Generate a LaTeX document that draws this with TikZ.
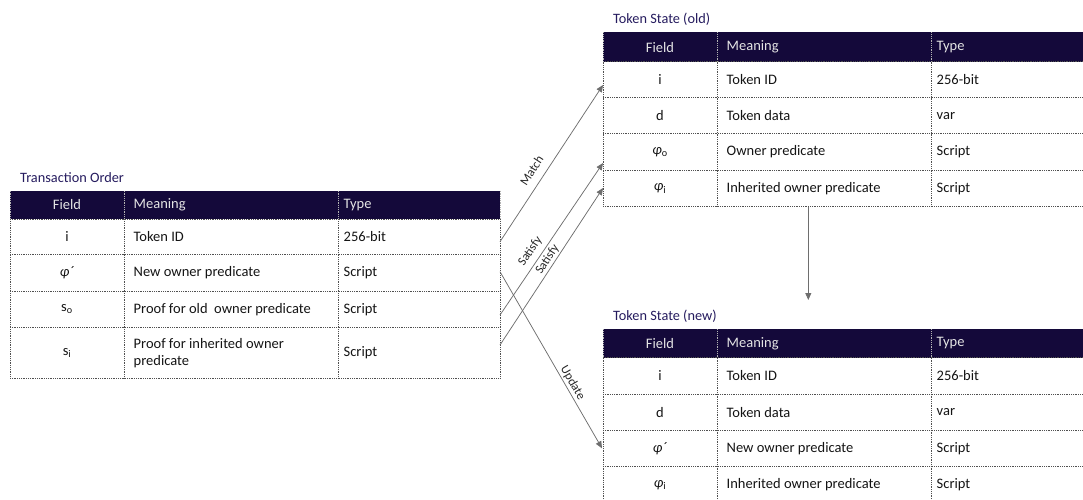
\documentclass[tikz,border=0pt]{standalone}
\usepackage{fontspec}
\setmainfont{Carlito}
\usetikzlibrary{arrows.meta}

\definecolor{hdrfill}{HTML}{14093A}
\definecolor{titlecol}{HTML}{251B5E}
\definecolor{rulecol}{HTML}{505050}
\definecolor{conncol}{HTML}{6E6E6E}
\definecolor{hdrtext}{HTML}{E4E4E4}

\tikzset{
  x=1pt, y=1pt,
  gridline/.style={rulecol, line width=0.8pt, dash pattern=on 0.9pt off 0.9pt},
  hdrline/.style={gray!60, line width=0.8pt, dash pattern=on 0.9pt off 0.9pt},
  body/.style={font=\fontsize{14.5}{17.5}\selectfont, text=black!92, inner sep=0pt},
  fieldc/.style={body, anchor=center},
  meanc/.style={body, anchor=west, align=left},
  typec/.style={body, anchor=west},
  headc/.style={body, text=hdrtext},
  tabtitle/.style={font=\fontsize{14.3}{16}\selectfont, text=titlecol, anchor=base west, inner sep=0pt},
  conn/.style={conncol, line width=0.75pt, -{Triangle[length=7pt,width=6pt]}},
  lbl/.style={font=\fontsize{12.5}{14}\selectfont, text=black!85, sloped, inner sep=1pt},
}

\newcommand{\phisym}{\textit{φ}}

\begin{document}
\begin{tikzpicture}
\useasboundingbox (0,0) rectangle (1083,499);
\clip (0,0) rectangle (1083,499);

% ---------------- Transaction Order ----------------
\node[tabtitle] (tx-title) at (20,317) {Transaction Order};
\fill[hdrfill] (10,308.3) rectangle (500,279.7);
\foreach \y in {279.7,244.7,208,171.3,120.7} \draw[gridline] (10,\y) -- (500,\y);
\foreach \x in {10,124,338,500} \draw[gridline] (\x,279.7) -- (\x,120.7);
\foreach \x in {10,124,338,500} \draw[hdrline] (\x,308.3) -- (\x,279.7);

\node[fieldc, headc] (tx-hf) at (67,294) {Field};
\node[meanc, headc]  (tx-hm) at (133.5,294) {Meaning};
\node[typec, headc]  (tx-ht) at (343.5,294) {Type};

\node[fieldc] (tx-f1) at (67,262.2) {i};
\node[meanc]  (tx-m1) at (133.5,262.2) {Token ID};
\node[typec]  (tx-t1) at (343.5,262.2) {256-bit};

\node[fieldc] (tx-f2) at (67,226.3) {\phisym\textit{´}};
\node[meanc]  (tx-m2) at (133.5,226.3) {New owner predicate};
\node[typec]  (tx-t2) at (343.5,226.3) {Script};

\node[fieldc] (tx-f3) at (67,189.6) {s\textsubscript{o}};
\node[meanc]  (tx-m3) at (133.5,189.6) {Proof for old\ \ owner predicate};
\node[typec]  (tx-t3) at (343.5,189.6) {Script};

\node[fieldc] (tx-f4) at (67,146) {s\textsubscript{i}};
\node[meanc]  (tx-m4) at (133.5,146) {Proof for inherited owner\\predicate};
\node[typec]  (tx-t4) at (343.5,146) {Script};

% ---------------- Token State (old) ----------------
\node[tabtitle] (old-title) at (613,475) {Token State (old)};
\fill[hdrfill] (603,466.5) rectangle (1093,437.3);
\foreach \y in {437.3,401.3,365.3,328.7,292.3} \draw[gridline] (603,\y) -- (1093,\y);
\foreach \x in {603,717,931} \draw[gridline] (\x,437.3) -- (\x,292.3);
\foreach \x in {603,717,931} \draw[hdrline] (\x,466.5) -- (\x,437.3);

\node[fieldc, headc] (old-hf) at (660,451.9) {Field};
\node[meanc, headc]  (old-hm) at (726.5,451.9) {Meaning};
\node[typec, headc]  (old-ht) at (936.5,451.9) {Type};

\node[fieldc] (old-f1) at (660,419.3) {i};
\node[meanc]  (old-m1) at (726.5,419.3) {Token ID};
\node[typec]  (old-t1) at (936.5,419.3) {256-bit};

\node[fieldc] (old-f2) at (660,383.3) {d};
\node[meanc]  (old-m2) at (726.5,383.3) {Token data};
\node[typec]  (old-t2) at (936.5,383.3) {var};

\node[fieldc] (old-f3) at (660,347) {\phisym\textsubscript{o}};
\node[meanc]  (old-m3) at (726.5,347) {Owner predicate};
\node[typec]  (old-t3) at (936.5,347) {Script};

\node[fieldc] (old-f4) at (660,310.5) {\phisym\textsubscript{i}};
\node[meanc]  (old-m4) at (726.5,310.5) {Inherited owner predicate};
\node[typec]  (old-t4) at (936.5,310.5) {Script};

% ---------------- Token State (new) ----------------
\node[tabtitle] (new-title) at (613,178.2) {Token State (new)};
\fill[hdrfill] (603,169.7) rectangle (1093,141.3);
\foreach \y in {141.3,105,68.5,32.3,-4} \draw[gridline] (603,\y) -- (1093,\y);
\foreach \x in {603,717,931} \draw[gridline] (\x,141.3) -- (\x,-4);
\foreach \x in {603,717,931} \draw[hdrline] (\x,169.7) -- (\x,141.3);

\node[fieldc, headc] (new-hf) at (660,155.5) {Field};
\node[meanc, headc]  (new-hm) at (726.5,155.5) {Meaning};
\node[typec, headc]  (new-ht) at (936.5,155.5) {Type};

\node[fieldc] (new-f1) at (660,123.2) {i};
\node[meanc]  (new-m1) at (726.5,123.2) {Token ID};
\node[typec]  (new-t1) at (936.5,123.2) {256-bit};

\node[fieldc] (new-f2) at (660,86.8) {d};
\node[meanc]  (new-m2) at (726.5,86.8) {Token data};
\node[typec]  (new-t2) at (936.5,86.8) {var};

\node[fieldc] (new-f3) at (660,50.4) {\phisym\textit{´}};
\node[meanc]  (new-m3) at (726.5,50.4) {New owner predicate};
\node[typec]  (new-t3) at (936.5,50.4) {Script};

\node[fieldc] (new-f4) at (660,14.2) {\phisym\textsubscript{i}};
\node[meanc]  (new-m4) at (726.5,14.2) {Inherited owner predicate};
\node[typec]  (new-t4) at (936.5,14.2) {Script};

% ---------------- connector end points ----------------
\coordinate (tx-id)    at (500,257.3);
\coordinate (tx-newp)  at (500,227.3);
\coordinate (tx-so)    at (500,184);
\coordinate (tx-si)    at (500,154);
\coordinate (old-id)   at (603,414);
\coordinate (old-po)   at (603,336);
\coordinate (old-pi)   at (603,311);
\coordinate (new-pn)   at (602,50.7);
\coordinate (old-bot)  at (808.3,292.3);
\coordinate (new-top)  at (808.3,199);

% ---------------- connectors ----------------
\draw[conn] (tx-id) -- node[lbl, pos=0.41, above=7pt] (lbl-match) {Match} (old-id);
\draw[conn] (tx-so) -- node[lbl, pos=0.38, above=4pt] (lbl-sat1) {Satisfy} (old-po);
\draw[conn] (tx-si) -- node[lbl, pos=0.52, above=0.5pt] (lbl-sat2) {Satisfy} (old-pi);
\draw[conn] (tx-newp) -- node[lbl, pos=0.65, above=0.5pt] (lbl-upd) {Update} (new-pn);
\draw[conn] (old-bot) -- (new-top);
\end{tikzpicture}
\end{document}
